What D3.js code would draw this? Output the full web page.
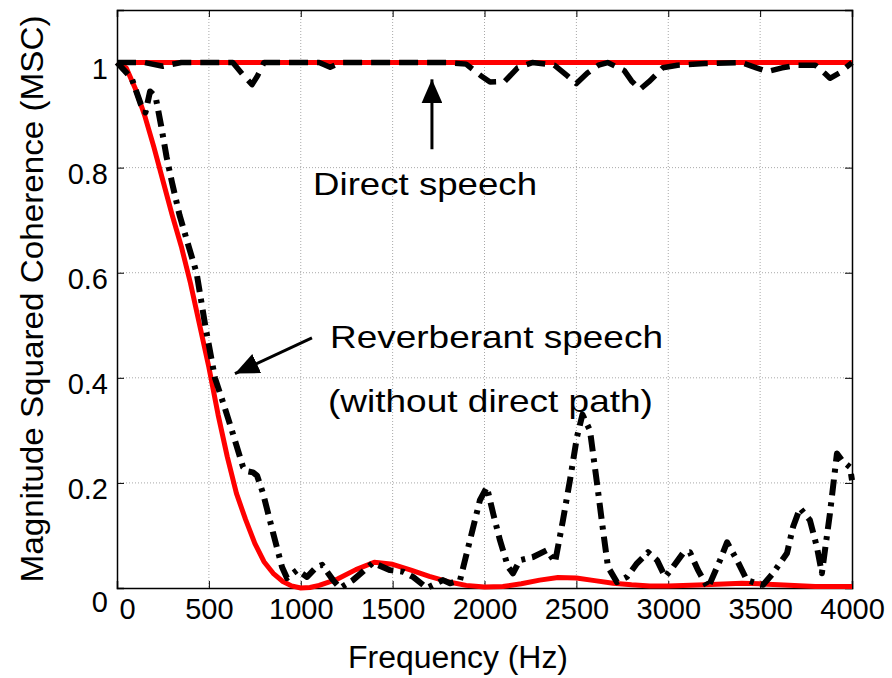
<!DOCTYPE html>
<html>
<head>
<meta charset="utf-8">
<script src="https://cdn.jsdelivr.net/npm/d3@7"></script>
<style>
	body { margin: 0; background: #fff; }
	svg text { font-family: "Liberation Sans", Arial, sans-serif; fill: #000; }
	.grid line { stroke: #a8a8a8; stroke-width: 1; stroke-dasharray: 1,2; }
</style>
</head>
<body>
<svg id="chart" width="892" height="678"></svg>
<script>
// frequency ticks (Hz) and coherence ticks
const xTicks = [0, 500, 1000, 1500, 2000, 2500, 3000, 3500, 4000];
const yTicks = [0, 0.2, 0.4, 0.6, 0.8, 1];

// direct speech, red reference (flat at 1)
const directRedFreq = [0, 4000];
const directRedMsc = [1, 1];

// direct speech, black dashed
const directFreq = [0, 150, 250, 350, 630, 690, 735, 765, 800, 1100, 1160, 1220, 1800, 1900, 1980, 2030, 2110, 2180, 2260, 2380, 2450, 2500, 2560, 2620, 2670, 2760, 2800, 2846, 2900, 2970, 3050, 3200, 3400, 3480, 3540, 3620, 3700, 3800, 3850, 3880, 3930, 4000];
const directMsc = [1, 1, 0.993, 1, 1, 0.975, 0.958, 0.975, 1, 1, 0.991, 1, 1, 0.997, 0.975, 0.963, 0.964, 0.99, 1, 0.995, 0.975, 0.96, 0.98, 0.995, 1, 0.985, 0.965, 0.949, 0.965, 0.99, 0.995, 0.998, 1, 0.99, 0.983, 0.99, 0.995, 0.995, 0.98, 0.97, 0.98, 1];

// reverberant speech, red solid (theory)
const reverbRedFreq = [0, 50, 100, 150, 200, 250, 300, 350, 400, 450, 500, 550, 600, 650, 700, 750, 800, 850, 900, 950, 1000, 1050, 1100, 1200, 1300, 1400, 1500, 1600, 1700, 1800, 1900, 2000, 2100, 2200, 2300, 2400, 2500, 2600, 2700, 2800, 2900, 3000, 3200, 3400, 3500, 3600, 3800, 4000];
const reverbRedMsc = [1, 0.99, 0.95, 0.9, 0.84, 0.775, 0.71, 0.65, 0.58, 0.5, 0.42, 0.33, 0.25, 0.18, 0.13, 0.085, 0.05, 0.028, 0.013, 0.004, 0, 0.001, 0.005, 0.017, 0.035, 0.049, 0.045, 0.034, 0.022, 0.012, 0.005, 0.002, 0.003, 0.008, 0.015, 0.02, 0.019, 0.014, 0.009, 0.006, 0.004, 0.004, 0.006, 0.009, 0.008, 0.006, 0.003, 0.003];

// reverberant speech, black dash-dot (measured)
const reverbFreq = [0, 80, 130, 155, 180, 210, 240, 270, 298, 340, 390, 433, 480, 533, 580, 625, 686, 710, 740, 762, 795, 850, 898, 925, 980, 1034, 1080, 1116, 1176, 1214, 1284, 1393, 1486, 1557, 1611, 1687, 1774, 1812, 1867, 1921, 1975, 2013, 2047, 2084, 2128, 2155, 2193, 2264, 2340, 2384, 2427, 2465, 2503, 2533, 2574, 2612, 2645, 2672, 2721, 2775, 2830, 2890, 2939, 2983, 3026, 3080, 3118, 3162, 3216, 3282, 3320, 3374, 3428, 3483, 3516, 3570, 3646, 3679, 3717, 3771, 3809, 3836, 3880, 3918, 3945, 3989, 4000];
const reverbMsc = [1, 0.97, 0.92, 0.905, 0.945, 0.935, 0.88, 0.82, 0.774, 0.71, 0.65, 0.6, 0.5, 0.4, 0.35, 0.3, 0.23, 0.222, 0.22, 0.214, 0.18, 0.104, 0.04, 0.019, 0.034, 0.021, 0.038, 0.044, 0.015, 0, 0.015, 0.048, 0.034, 0.031, 0.021, 0, 0.015, 0.009, 0.015, 0.091, 0.167, 0.192, 0.142, 0.091, 0.04, 0.028, 0.053, 0.059, 0.072, 0.049, 0.129, 0.205, 0.287, 0.33, 0.3, 0.2, 0.11, 0.04, 0.011, 0.021, 0.047, 0.068, 0.053, 0.021, 0.04, 0.066, 0.068, 0.034, 0, 0.053, 0.087, 0.053, 0.015, 0.009, 0.006, 0.028, 0.066, 0.116, 0.152, 0.129, 0.078, 0.028, 0.142, 0.256, 0.243, 0.23, 0.205];

// annotations, in data coordinates
const notes = [
	{ text: "Direct speech", f: 1067, v: 0.748, len: 224 },
	{ text: "Reverberant speech", f: 1159, v: 0.457, len: 333 },
	{ text: "(without direct path)", f: 1148, v: 0.334, len: 325 }
];
const arrows = [
	{ f0: 1714, v0: 0.835, f1: 1714, v1: 0.968 },
	{ f0: 1061, v0: 0.476, f1: 642, v1: 0.408 }
];

const margin = { left: 117, right: 40, top: 10, bottom: 90 };
const width = 892, height = 678;

const x = d3.scaleLinear().domain([0, 4000]).range([margin.left, width - margin.right]);
const y = d3.scaleLinear().domain([0, 1.1]).range([height - margin.bottom, margin.top]);

const svg = d3.select("#chart");
svg.append("rect").attr("width", width).attr("height", height).attr("fill", "#fff");

// grid
const grid = svg.append("g").attr("class", "grid");
grid.selectAll("line.gx").data(xTicks.slice(1, -1)).join("line")
	.attr("x1", (d) => x(d)).attr("x2", (d) => x(d))
	.attr("y1", y(1.1)).attr("y2", y(0));
grid.selectAll("line.gy").data(yTicks.slice(1)).join("line")
	.attr("x1", x(0)).attr("x2", x(4000))
	.attr("y1", (d) => y(d)).attr("y2", (d) => y(d));

// axes with inward ticks, box on all sides
const fontTick = "29px";
const xAxis = svg.append("g").attr("transform", `translate(0,${y(0)})`)
	.call(d3.axisBottom(x).tickValues(xTicks).tickSize(-7).tickPadding(10).tickFormat(d3.format("d")));
xAxis.selectAll("text").style("font-size", fontTick).attr("dx", (d) => (d === 0 ? 10 : 0));

const yAxis = svg.append("g").attr("transform", `translate(${x(0)},0)`)
	.call(d3.axisLeft(y).tickValues(yTicks).tickSize(-7).tickPadding(9).tickFormat((d) => (d === 0 || d === 1 ? d3.format("d")(d) : d3.format(".1f")(d))));
yAxis.selectAll("text").style("font-size", fontTick).attr("dy", (d) => (d === 0 ? "0.82em" : "0.55em"));

svg.append("g").attr("transform", `translate(0,${y(1.1)})`)
	.call(d3.axisTop(x).tickValues(xTicks).tickSize(-7).tickFormat(""));
svg.append("g").attr("transform", `translate(${x(4000)},0)`)
	.call(d3.axisRight(y).tickValues(yTicks).tickSize(-7).tickFormat(""));

svg.selectAll(".domain").attr("stroke", "#000").attr("stroke-width", 1.5);
svg.selectAll(".tick line").attr("stroke", "#000").attr("stroke-width", 1);

// axis titles
svg.append("text")
	.attr("x", 458)
	.attr("y", 668)
	.attr("text-anchor", "middle")
	.style("font-size", "31px")
	.attr("textLength", 220)
	.attr("lengthAdjust", "spacingAndGlyphs")
	.text("Frequency (Hz)");

svg.append("text")
	.attr("transform", `translate(43,${(y(0) + y(1.1)) / 2}) rotate(-90)`)
	.attr("text-anchor", "middle")
	.style("font-size", "31px")
	.attr("textLength", 567)
	.attr("lengthAdjust", "spacingAndGlyphs")
	.text("Magnitude Squared Coherence (MSC)");

// curves
const line = d3.line().x((d) => x(d[0])).y((d) => y(d[1]));
const zip = (fs, vs) => fs.map((f, i) => [f, vs[i]]);

const plot = svg.append("g").attr("fill", "none").attr("stroke-linejoin", "round");

plot.append("path").datum(zip(directRedFreq, directRedMsc))
	.attr("d", line).attr("stroke", "#ff0000").attr("stroke-width", 5);
plot.append("path").datum(zip(reverbRedFreq, reverbRedMsc))
	.attr("d", line).attr("stroke", "#ff0000").attr("stroke-width", 5);

plot.append("path").datum(zip(directFreq, directMsc))
	.attr("d", line).attr("stroke", "#000").attr("stroke-width", 5.5)
	.attr("stroke-dasharray", "19,9");
plot.append("path").datum(zip(reverbFreq, reverbMsc))
	.attr("d", line).attr("stroke", "#000").attr("stroke-width", 6)
	.attr("stroke-dasharray", "16,7,4,7");

// annotations
svg.append("g").selectAll("text").data(notes).join("text")
	.attr("x", (d) => x(d.f))
	.attr("y", (d) => y(d.v))
	.style("font-size", "32px")
	.attr("textLength", (d) => d.len)
	.attr("lengthAdjust", "spacingAndGlyphs")
	.text((d) => d.text);

svg.append("defs").append("marker")
	.attr("id", "head")
	.attr("viewBox", "0 0 10 10")
	.attr("refX", 10).attr("refY", 5)
	.attr("markerWidth", 8).attr("markerHeight", 7)
	.attr("markerUnits", "strokeWidth")
	.attr("orient", "auto")
	.attr("preserveAspectRatio", "none")
	.append("path").attr("d", "M0,0L10,5L0,10z").attr("fill", "#000");

svg.append("g").selectAll("line").data(arrows).join("line")
	.attr("x1", (d) => x(d.f0)).attr("y1", (d) => y(d.v0))
	.attr("x2", (d) => x(d.f1)).attr("y2", (d) => y(d.v1))
	.attr("stroke", "#000").attr("stroke-width", 3)
	.attr("marker-end", "url(#head)");
</script>
</body>
</html>
